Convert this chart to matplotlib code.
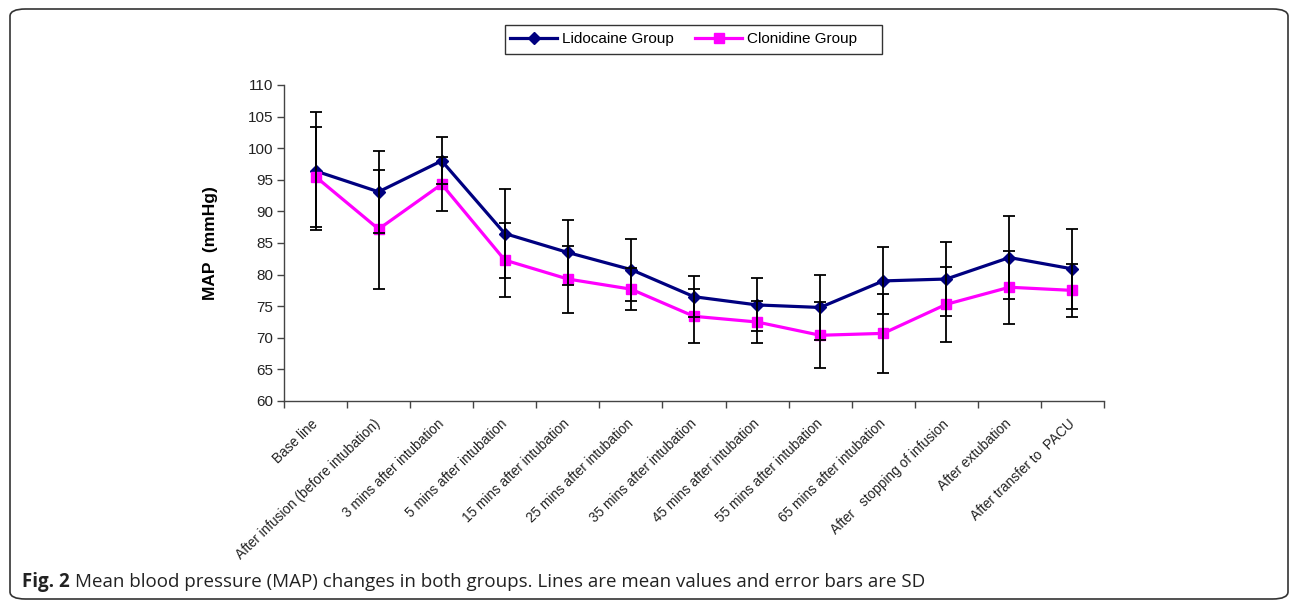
import matplotlib
matplotlib.use("Agg")
import matplotlib.pyplot as plt
import matplotlib.transforms as mtransforms
from matplotlib.patches import FancyBboxPatch, Rectangle
import numpy as np

categories = ["Base line", "After infusion (before intubation)", "3 mins after intubation",
              "5 mins after intubation", "15 mins after intubation", "25 mins after intubation",
              "35 mins after intubation", "45 mins after intubation", "55 mins after intubation",
              "65 mins after intubation", "After   stopping of infusion", "After extubation",
              "After transfer to  PACU"]
lido_mean = [96.4, 93.1, 98.0, 86.5, 83.5, 80.8, 76.5, 75.2, 74.8, 79.0, 79.3, 82.7, 80.9]
lido_sd   = [9.3, 6.5, 3.7, 7.0, 5.1, 4.9, 3.2, 4.2, 5.2, 5.3, 5.8, 6.5, 6.3]
clon_mean = [95.5, 87.2, 94.3, 82.3, 79.3, 77.7, 73.4, 72.5, 70.4, 70.7, 75.3, 78.0, 77.5]
clon_sd   = [7.9, 9.4, 4.3, 5.8, 5.3, 3.3, 4.3, 3.3, 5.2, 6.2, 5.9, 5.8, 4.2]
yticks = list(range(60, 111, 5))

plt.rcParams['font.family'] = ['Liberation Sans', 'DejaVu Sans']

fig = plt.figure(figsize=(12.92, 6.01), dpi=100)
ax = fig.add_axes([284/1292, 1-401/601, (1104-284)/1292, (401-85)/601])

x = np.arange(len(categories))
l1, = ax.plot(x, lido_mean, color='#000080', lw=2.3, marker='D', ms=6.5,
              mfc='#000080', mec='#000080', zorder=3, label='Lidocaine Group')
l2, = ax.plot(x, clon_mean, color='#FF00FF', lw=2.3, marker='s', ms=7.5,
              mfc='#FF00FF', mec='#FF00FF', zorder=3, label='Clonidine Group')
ax.errorbar(x, lido_mean, yerr=lido_sd, fmt='none', ecolor='black', elinewidth=1.3,
            capsize=4.2, capthick=1.3, zorder=4)
ax.errorbar(x, clon_mean, yerr=clon_sd, fmt='none', ecolor='black', elinewidth=1.3,
            capsize=4.2, capthick=1.3, zorder=4)

ax.set_xlim(-0.5, len(categories) - 0.5)
ax.set_ylim(60, 110)
ax.set_yticks(yticks)
ax.set_xticks(x)
labels = ax.set_xticklabels(categories, rotation=44, ha='right', va='center',
                            rotation_mode='anchor', fontsize=9.8, color='#222222')
shift = mtransforms.ScaledTranslation(-9/100, 0, fig.dpi_scale_trans)
for lab in labels:
    lab.set_transform(lab.get_transform() + shift)
ax.set_xticks(np.arange(-0.5, len(categories), 1.0), minor=True)
ax.tick_params(axis='x', which='major', length=0, pad=15)
ax.tick_params(axis='x', which='minor', length=5, width=1, color='#444444', direction='out')
ax.tick_params(axis='y', length=5, width=1, color='#444444', direction='out',
               labelsize=11, labelcolor='#222222', pad=3)
for s in ['top', 'right']:
    ax.spines[s].set_visible(False)
for s in ['left', 'bottom']:
    ax.spines[s].set_color('#444444')
    ax.spines[s].set_linewidth(1)

ax.set_ylabel('MAP  (mmHg)', fontsize=12.5, fontweight='bold', labelpad=21)

leg = fig.legend(handles=[l1, l2], loc='center left', bbox_to_anchor=(510/1292, 1-39.5/601),
                 ncol=2, frameon=False, fontsize=11, handlelength=3.1, columnspacing=1.4,
                 borderpad=0, handletextpad=0.3, borderaxespad=0)
fig.patches.append(Rectangle((505/1292, 1-54/601), (882-505)/1292, 29/601,
                             transform=fig.transFigure, fill=False,
                             edgecolor='#333333', linewidth=1))

frame = FancyBboxPatch((10/1292, 2/601), (1288-10)/1292, (592-2)/601,
                       boxstyle='round,pad=0,rounding_size=0.012',
                       transform=fig.transFigure, fill=False, edgecolor='#333333',
                       linewidth=1.2)
fig.patches.append(frame)

t = fig.text(22/1292, 1-582/601, 'Fig. 2', fontsize=13.5, family='Open Sans',
             fontweight='bold', va='center', ha='left', color='#222222')
fig.canvas.draw()
bb = t.get_window_extent()
fig.text((bb.x1 + 5)/1292, 1-582/601,
         'Mean blood pressure (MAP) changes in both groups. Lines are mean values and error bars are SD',
         fontsize=13.5, family='Open Sans', va='center', ha='left', color='#222222')

fig.savefig('out.png', dpi=100)
